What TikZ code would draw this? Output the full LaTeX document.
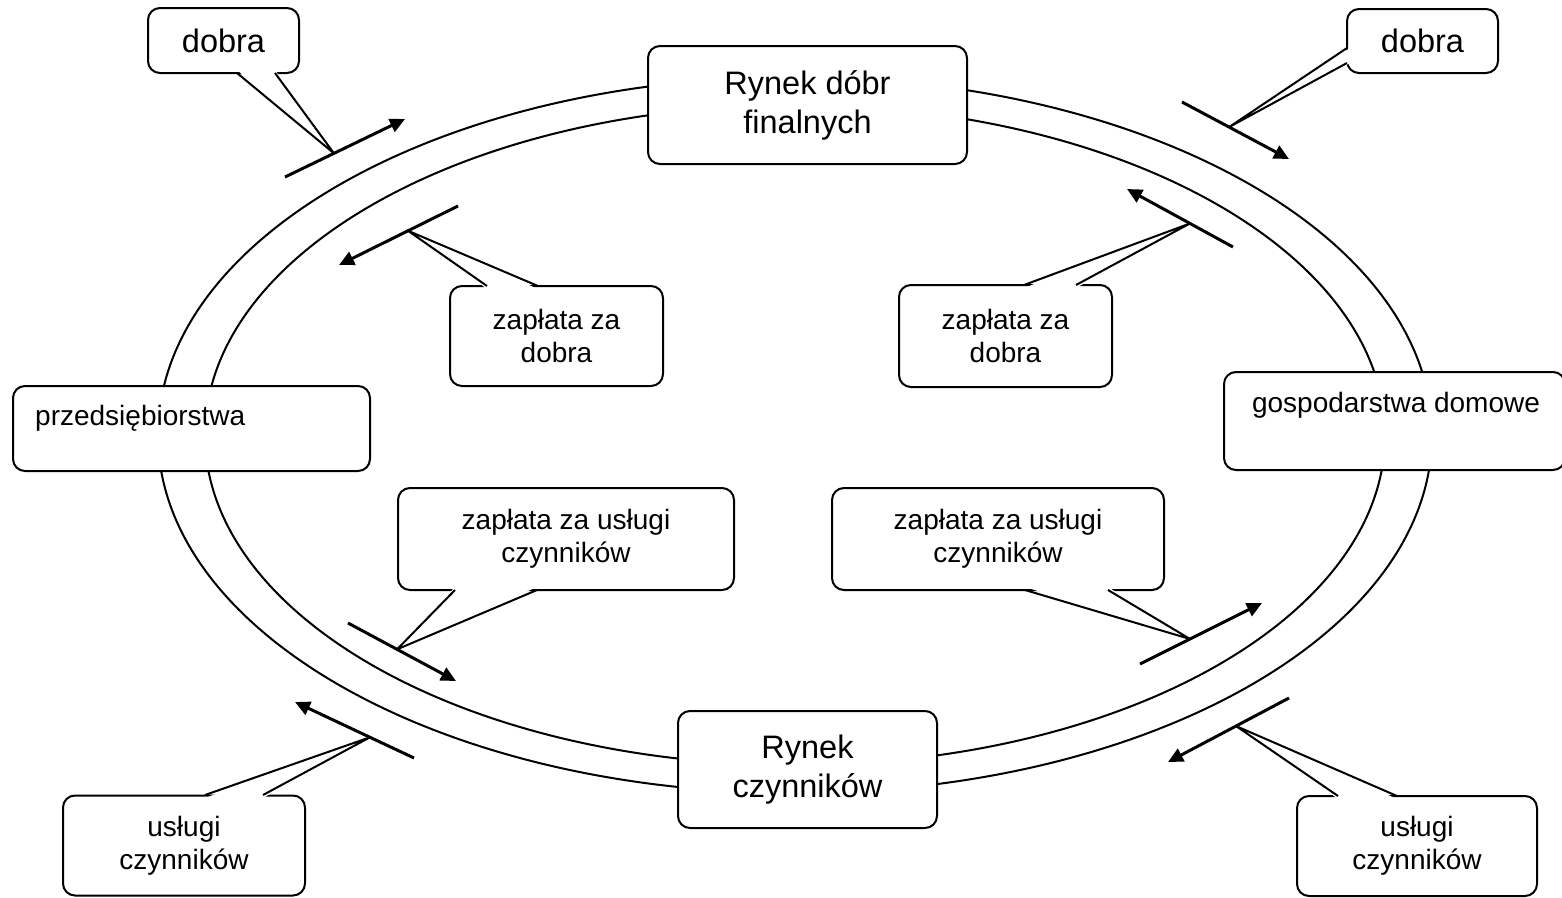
\documentclass[tikz,border=0pt]{standalone}
\usepackage{fontspec}
\setmainfont{Liberation Sans}
\usetikzlibrary{arrows.meta,calc}
\tikzset{
  ring/.style={line width=2pt},
  box/.style={draw, line width=2pt, rounded corners=12pt, fill=white, inner sep=0pt},
  bigtxt/.style={font=\fontsize{32.5}{39}\selectfont, align=center},
  smalltxt/.style={font=\fontsize{28}{33}\selectfont, align=center},
  flow/.style={line width=3pt, -{Triangle[length=15pt,width=14pt]}},
  tailline/.style={line width=2pt, line join=round},
}
% callout tail: #1,#2 base points on the box edge, #3 tip, #4 inward shift
\newcommand\calltail[4]{%
  \fill[white] ($#1+#4$) -- #3 -- ($#2+#4$) -- cycle;
  \draw[tailline] #1 -- #3 -- #2;}
\begin{document}
\begin{tikzpicture}[x=1pt,y=-1pt]
\useasboundingbox (0,0) rectangle (1562,897);

% the two circuits
\draw[ring] (795,435) ellipse [x radius=637pt, y radius=358pt];
\draw[ring] (795,435) ellipse [x radius=590pt, y radius=330pt];

% markets and sectors
\node[box, bigtxt, minimum width=319pt, minimum height=118pt] (goods) at (807.5,105) {Rynek dóbr\\finalnych};
\node[box, bigtxt, minimum width=259pt, minimum height=117pt] (factors) at (807.5,769.5) {Rynek\\czynników};
\node[box, minimum width=357pt, minimum height=85pt] (firms) at (191.5,428.5) {};
\node[smalltxt, anchor=base west, inner sep=0pt] (firmsT) at (35,425) {przedsiębiorstwa};
\node[box, minimum width=341pt, minimum height=98pt] (homes) at (1394.5,421) {};
\node[smalltxt, anchor=base, inner sep=0pt] (homesT) at (1396,412) {gospodarstwa domowe};

% flow arrows
\coordinate (a1s) at (285,177);  \coordinate (a1e) at (405,119);
\coordinate (a2s) at (1182,102); \coordinate (a2e) at (1289,159);
\coordinate (a3s) at (458,206);  \coordinate (a3e) at (339,265);
\coordinate (a4s) at (1233,247); \coordinate (a4e) at (1127,189);
\coordinate (a5s) at (348,623);  \coordinate (a5e) at (456,681);
\coordinate (a6s) at (1140,664); \coordinate (a6e) at (1262,603);
\coordinate (a7s) at (414,758);  \coordinate (a7e) at (295,702);
\coordinate (a8s) at (1289,698); \coordinate (a8e) at (1168,762);

% callout tips lie on the arrows
\coordinate (t1) at ($(a1s)!0.408!(a1e)$);
\coordinate (t2) at ($(a2s)!0.44!(a2e)$);
\coordinate (t3) at ($(a3s)!0.42!(a3e)$);
\coordinate (t4) at ($(a4s)!0.406!(a4e)$);
\coordinate (t5) at ($(a5s)!0.454!(a5e)$);
\coordinate (t6) at ($(a6s)!0.41!(a6e)$);
\coordinate (t7) at ($(a7s)!0.37!(a7e)$);
\coordinate (t8) at ($(a8s)!0.438!(a8e)$);

% callouts
\node[box, bigtxt, minimum width=151pt, minimum height=65pt] (goodsL) at (223.5,40.5) {dobra};
\calltail{(237,73)}{(275,73)}{(t1)}{(0,-3)}
\node[box, bigtxt, minimum width=151pt, minimum height=64pt] (goodsR) at (1422.5,41) {dobra};
\calltail{(1347,48)}{(1347,63)}{(t2)}{(3,0)}
\node[box, smalltxt, minimum width=213pt, minimum height=100pt] (payL) at (556.5,336) {zapłata za\\dobra};
\calltail{(487,286)}{(538,286)}{(t3)}{(0,3)}
\node[box, smalltxt, minimum width=213pt, minimum height=102pt] (payR) at (1005.5,336) {zapłata za\\dobra};
\calltail{(1024,285)}{(1076,285)}{(t4)}{(0,3)}
\node[box, smalltxt, minimum width=336pt, minimum height=102pt] (facPayL) at (566,539) {zapłata za usługi\\czynników};
\calltail{(455,590)}{(537,590)}{(t5)}{(0,-3)}
\node[box, smalltxt, minimum width=332pt, minimum height=102pt] (facPayR) at (998,539) {zapłata za usługi\\czynników};
\calltail{(1025,590)}{(1108,590)}{(t6)}{(0,-3)}
\node[box, smalltxt, minimum width=242pt, minimum height=100pt] (svcL) at (184,845.5) {usługi\\czynników};
\calltail{(205,795)}{(263,795)}{(t7)}{(0,3)}
\node[box, smalltxt, minimum width=240pt, minimum height=100pt] (svcR) at (1417,846) {usługi\\czynników};
\calltail{(1338,796)}{(1397,796)}{(t8)}{(0,3)}

\draw[flow] (a1s) -- (a1e);
\draw[flow] (a2s) -- (a2e);
\draw[flow] (a3s) -- (a3e);
\draw[flow] (a4s) -- (a4e);
\draw[flow] (a5s) -- (a5e);
\draw[flow] (a6s) -- (a6e);
\draw[flow] (a7s) -- (a7e);
\draw[flow] (a8s) -- (a8e);
\end{tikzpicture}
\end{document}
